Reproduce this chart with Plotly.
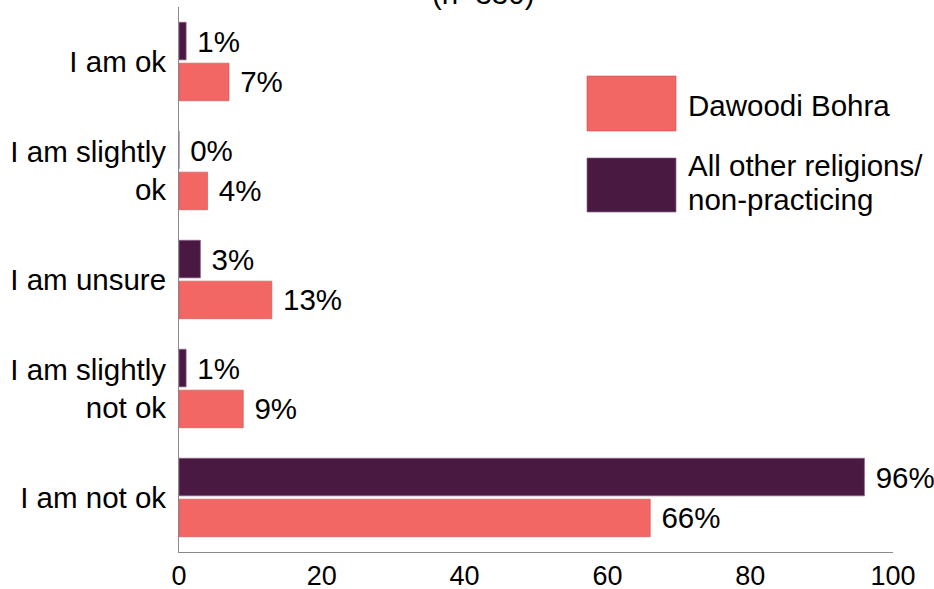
import plotly.graph_objects as go

categories = ["I am ok", "I am slightly<br>ok", "I am unsure", "I am slightly<br>not ok", "I am not ok"]
dawoodi_bohra = [7, 4, 13, 9, 66]
all_other = [1, 0, 3, 1, 96]
x_ticks = [0, 20, 40, 60, 80, 100]
series_names = ["Dawoodi Bohra", "All other religions/<br>non-practicing"]

PINK = "#F26764"
PURPLE = "#4A1942"
FONT = "Liberation Sans, Arial, Helvetica, sans-serif"
TXT = 29.5

fig = go.Figure()
fig.add_trace(go.Bar(
    y=categories, x=dawoodi_bohra, orientation="h", name=series_names[0],
    marker=dict(color=PINK, line=dict(color="rgba(200,80,80,0.6)", width=1)),
    text=[f" {v}%" for v in dawoodi_bohra], textposition="outside",
    textfont=dict(size=TXT, color="black", family=FONT), cliponaxis=False,
))
fig.add_trace(go.Bar(
    y=categories, x=all_other, orientation="h", name=series_names[1],
    marker=dict(color=PURPLE, line=dict(color="rgba(140,100,140,0.7)", width=1)),
    text=[f" {v}%" for v in all_other], textposition="outside",
    textfont=dict(size=TXT, color="black", family=FONT), cliponaxis=False,
))

W, H = 934, 589
L, R, T, B = 179, 41, 7, 37
pw, ph = W - L - R, H - T - B

def px(x):
    return (x - L) / pw

def py(y):
    return (H - B - y) / ph

shapes = [
    dict(type="rect", xref="paper", yref="paper", x0=px(587), x1=px(676), y0=py(131), y1=py(76),
         fillcolor=PINK, line=dict(color="rgba(200,80,80,0.6)", width=1)),
    dict(type="rect", xref="paper", yref="paper", x0=px(587), x1=px(676), y0=py(212), y1=py(158),
         fillcolor=PURPLE, line=dict(color="rgba(140,100,140,0.7)", width=1)),
]
annotations = [
    dict(text="Dawoodi Bohra", xref="paper", yref="paper", x=px(686), y=py(105),
         xanchor="left", yanchor="middle", showarrow=False, font=dict(size=TXT, color="black", family=FONT)),
    dict(text="All other religions/", xref="paper", yref="paper", x=px(686), y=py(166),
         xanchor="left", yanchor="middle", showarrow=False, font=dict(size=TXT, color="black", family=FONT)),
    dict(text="non-practicing", xref="paper", yref="paper", x=px(686), y=py(199),
         xanchor="left", yanchor="middle", showarrow=False, font=dict(size=TXT, color="black", family=FONT)),
    dict(text="(n=330)", xref="paper", yref="paper", x=px(483), y=1, yshift=-5,
         xanchor="center", yanchor="bottom", showarrow=False, font=dict(size=TXT, color="black", family=FONT)),
]

fig.update_layout(
    width=W, height=H,
    margin=dict(l=L, r=R, t=T, b=B, pad=0, autoexpand=False),
    paper_bgcolor="white", plot_bgcolor="white",
    barmode="group", bargap=0.25, bargroupgap=0.08,
    showlegend=False,
    font=dict(family=FONT, size=TXT, color="black"),
    shapes=shapes, annotations=annotations,
    xaxis=dict(range=[0, 100], tickvals=x_ticks, showgrid=False, zeroline=False,
               showline=True, linecolor="#8a8a8a", linewidth=1, ticks="", automargin=False,
               tickfont=dict(size=27, color="black", family=FONT), ticklabelstandoff=0),
    yaxis=dict(categoryorder="array", categoryarray=list(reversed(categories)),
               showgrid=False, zeroline=False, showline=True, linecolor="#8a8a8a", linewidth=1,
               ticks="", automargin=False, tickfont=dict(size=TXT, color="black", family=FONT),
               ticklabelstandoff=6),
)

fig.write_html("out.html", config={"displayModeBar": False},
               post_script="document.body.style.margin='0';document.body.style.overflow='hidden';")
